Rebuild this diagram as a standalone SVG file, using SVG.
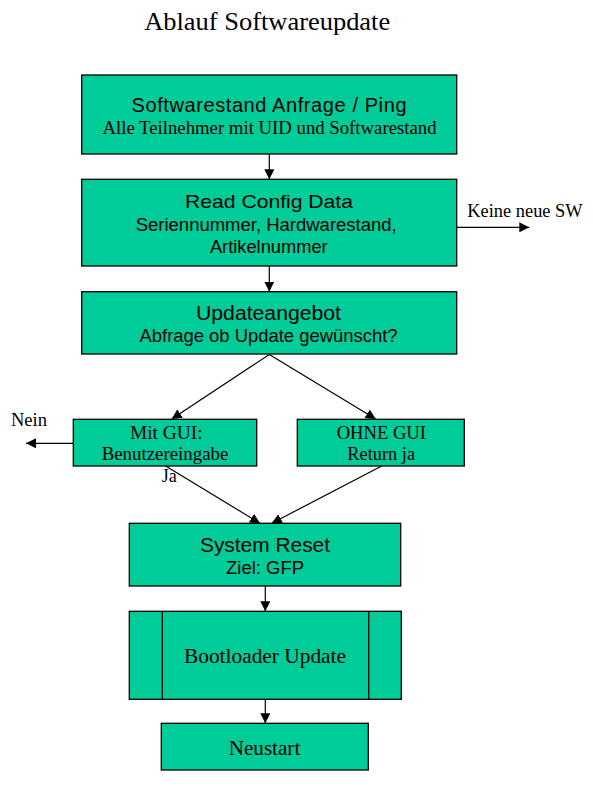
<svg xmlns="http://www.w3.org/2000/svg" width="593" height="788" viewBox="0 0 593 788">
<style>
.box{fill:#00CC99;stroke:#000;stroke-width:1.3}
.sans{font-family:"Liberation Sans",Arial,sans-serif;fill:#000}
.serif{font-family:"Liberation Serif","Times New Roman",serif;fill:#000}
.c{text-anchor:middle}
.con{stroke:#000;stroke-width:1.2;fill:none;marker-end:url(#ah)}
.div{stroke:#000;stroke-width:1.3}
</style>
<defs>
<marker id="ah" markerUnits="userSpaceOnUse" markerWidth="10" markerHeight="10" refX="10" refY="5" orient="auto" viewBox="0 0 10 10">
<path d="M0,0 L10,5 L0,10 z" fill="#000"/>
</marker>
</defs>
<rect width="593" height="788" fill="#fff"/>
<text class="serif c" x="267.2" y="30" font-size="25" textLength="246" lengthAdjust="spacingAndGlyphs">Ablauf Softwareupdate</text>

<g id="connectors">
<line class="con" x1="269.3" y1="154" x2="269.3" y2="179.3"/>
<line class="con" x1="456.7" y1="227.3" x2="529.3" y2="227.3"/>
<line class="con" x1="269.3" y1="266" x2="269.3" y2="291.7"/>
<line class="con" x1="269.3" y1="354.5" x2="171.7" y2="419"/>
<line class="con" x1="269.3" y1="354.5" x2="375.7" y2="419"/>
<line class="con" x1="73.3" y1="443.3" x2="26" y2="443.3"/>
<line class="con" x1="165.7" y1="466" x2="260" y2="523.3"/>
<line class="con" x1="381.7" y1="466" x2="271.7" y2="523.3"/>
<line class="con" x1="265.3" y1="586" x2="265.3" y2="611.3"/>
<line class="con" x1="265.3" y1="699.3" x2="265.3" y2="723.3"/>
<text class="serif" x="467.3" y="217.3" font-size="18" textLength="115.4" lengthAdjust="spacingAndGlyphs">Keine neue SW</text>
<text class="serif" x="11" y="425.7" font-size="18" textLength="36" lengthAdjust="spacingAndGlyphs">Nein</text>
<text class="serif" x="161.7" y="481.7" font-size="18">Ja</text>
</g>

<g id="n1">
<rect class="box" x="81.7" y="75" width="375" height="79"/>
<text class="sans c" x="269" y="111.7" font-size="20" textLength="275" lengthAdjust="spacing">Softwarestand Anfrage / Ping</text>
<text class="serif c" x="269.5" y="134.3" font-size="18.5" textLength="334" lengthAdjust="spacingAndGlyphs">Alle Teilnehmer mit UID und Softwarestand</text>
</g>

<g id="n2">
<rect class="box" x="81.7" y="179.3" width="375" height="86.7"/>
<text class="sans c" x="269" y="208.3" font-size="19" textLength="168" lengthAdjust="spacingAndGlyphs">Read Config Data</text>
<text class="sans c" x="266.2" y="231" font-size="18" textLength="261" lengthAdjust="spacingAndGlyphs">Seriennummer, Hardwarestand,</text>
<text class="sans c" x="268.8" y="253.3" font-size="18" textLength="117.7" lengthAdjust="spacingAndGlyphs">Artikelnummer</text>
</g>

<g id="n3">
<rect class="box" x="81.7" y="291.7" width="375" height="62.3"/>
<text class="sans c" x="268.5" y="320" font-size="20" textLength="145" lengthAdjust="spacingAndGlyphs">Updateangebot</text>
<text class="sans c" x="268.5" y="342.3" font-size="18" textLength="258" lengthAdjust="spacingAndGlyphs">Abfrage ob Update gewünscht?</text>
</g>

<g id="n4">
<rect class="box" x="73.3" y="419.3" width="183.4" height="46.7"/>
<text class="serif c" x="166.3" y="439.3" font-size="19" textLength="72.7" lengthAdjust="spacingAndGlyphs">Mit GUI:</text>
<text class="serif c" x="165" y="460" font-size="19" textLength="126.6" lengthAdjust="spacingAndGlyphs">Benutzereingabe</text>
</g>

<g id="n5">
<rect class="box" x="297.3" y="419.3" width="167" height="46.7"/>
<text class="serif c" x="381.3" y="439.3" font-size="19" textLength="89.3" lengthAdjust="spacingAndGlyphs">OHNE GUI</text>
<text class="serif c" x="381.2" y="460" font-size="19" textLength="67.7" lengthAdjust="spacingAndGlyphs">Return ja</text>
</g>

<g id="n6">
<rect class="box" x="129.3" y="523.3" width="271.4" height="62.7"/>
<text class="sans c" x="265" y="551.7" font-size="19.5" textLength="130" lengthAdjust="spacingAndGlyphs">System Reset</text>
<text class="sans c" x="265" y="574.3" font-size="18" textLength="78" lengthAdjust="spacingAndGlyphs">Ziel: GFP</text>
</g>

<g id="n7">
<rect class="box" x="129.3" y="611.3" width="272" height="88"/>
<line class="div" x1="162.3" y1="611.3" x2="162.3" y2="699.3"/>
<line class="div" x1="368.7" y1="611.3" x2="368.7" y2="699.3"/>
<text class="serif c" x="265" y="662.7" font-size="21" textLength="162" lengthAdjust="spacingAndGlyphs">Bootloader Update</text>
</g>

<g id="n8">
<rect class="box" x="161.3" y="723.3" width="207" height="46.7"/>
<text class="serif c" x="264.5" y="755" font-size="21" textLength="71.6" lengthAdjust="spacingAndGlyphs">Neustart</text>
</g>
</svg>
